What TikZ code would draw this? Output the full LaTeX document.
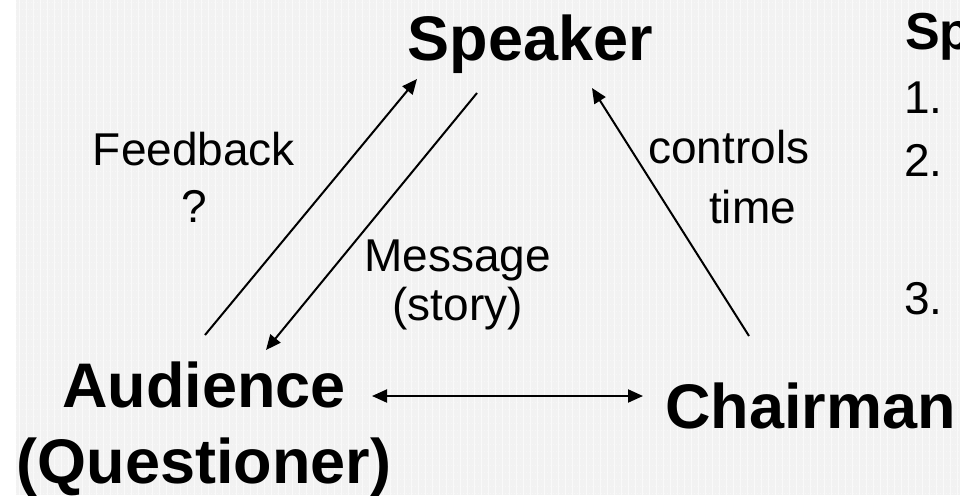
\documentclass[tikz,border=0pt]{standalone}
\usepackage{fontspec}
\setmainfont{Liberation Sans}
\usetikzlibrary{arrows.meta}
\definecolor{bgc}{RGB}{242,242,242}
\begin{document}
\begin{tikzpicture}[x=1pt,y=-1pt,
  big/.style={font=\fontsize{63}{76}\selectfont\bfseries, inner sep=0},
  lbl/.style={font=\fontsize{46}{57}\selectfont, inner sep=0},
  tipA/.tip={Triangle[length=15pt,width=13pt]},
  conn/.style={line width=2pt, -tipA},
  dconn/.style={line width=2pt, tipA-tipA},
]
\useasboundingbox (0,0) rectangle (960,495);
\clip (0,0) rectangle (960,495);
\fill[white] (0,0) rectangle (960,495);
\fill[bgc] (16,0) rectangle (960,495);
\foreach \x in {19,26,...,960} \draw[white, opacity=0.55, line width=1pt] (\x,0) -- (\x,495);
\foreach \y in {3,10,...,495} \draw[white, opacity=0.35, line width=1pt, dash pattern=on 1pt off 2pt] (16,\y) -- (960,\y);

% main nodes (base anchor = baseline of last line)
\node[big, anchor=base] (spk) at (530.5,60) {Speaker};
\node[big, anchor=base, align=center] (aud) at (204,483) {Audience\\(Questioner)};
\node[big, anchor=base west] (chair) at (665,428) {Chairman};

% labels
\node[lbl, anchor=base, align=center] (fb) at (194,222) {Feedback\\?};
\node[lbl, font=\fontsize{46}{49}\selectfont, anchor=base, align=center] (msg) at (457.5,320) {Message\\(story)};
\node[lbl, font=\fontsize{46}{60}\selectfont, anchor=base west, align=left] (ctl) at (648,223) {controls\\\hspace*{61pt}time};

% right column (cut off at the edge, as in the reference)
\node[anchor=base west, inner sep=0, font=\fontsize{52}{60}\selectfont\bfseries] (sp) at (905,50) {Sp};
\node[lbl, anchor=base west] (n1) at (904,113) {1.};
\node[lbl, anchor=base west] (n2) at (904,176) {2.};
\node[lbl, anchor=base west] (n3) at (904,314) {3.};

% connector end points
\coordinate (fbA) at (205,335);
\coordinate (fbB) at (417,79);
\coordinate (msA) at (477,93);
\coordinate (msB) at (266,350);
\coordinate (ctA) at (749,336);
\coordinate (ctB) at (592,88);
\coordinate (dA) at (372,396);
\coordinate (dB) at (643,396);

\draw[conn] (fbA) -- (fbB);
\draw[conn] (msA) -- (msB);
\draw[conn] (ctA) -- (ctB);
\draw[dconn] (dA) -- (dB);
\end{tikzpicture}
\end{document}
